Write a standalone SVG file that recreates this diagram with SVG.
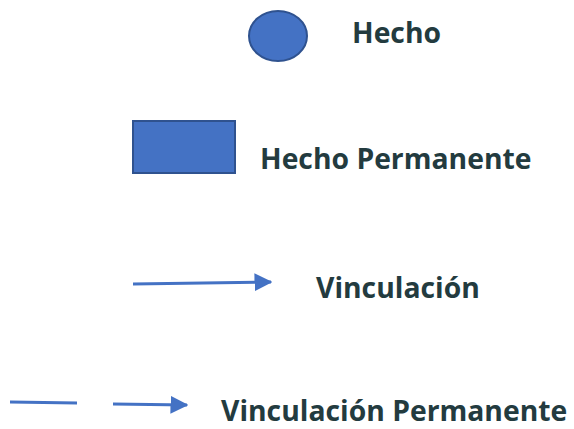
<svg xmlns="http://www.w3.org/2000/svg" width="574" height="429" viewBox="0 0 574 429">
<style>
.lbl{font-family:"Open Sans",Lato,"Liberation Sans",sans-serif;font-weight:bold;font-size:28.3px;fill:#233B3F}
.shape{fill:#4472C4;stroke:#2F528F;stroke-width:2}
.ln{stroke:#4472C4;stroke-width:3;fill:none}
</style>
<defs>
<marker id="ah" markerWidth="6" markerHeight="6" refX="5.5" refY="3" orient="auto" markerUnits="strokeWidth">
<path d="M0,0 L6,3 L0,6 Z" fill="#4472C4"/>
</marker>
</defs>
<rect width="574" height="429" fill="#FFFFFF"/>
<g id="hecho">
<ellipse class="shape" cx="278" cy="36" rx="29" ry="25"/>
<text class="lbl" x="352" y="43">Hecho</text>
</g>
<g id="hecho-permanente">
<rect class="shape" x="133" y="121" width="102" height="52"/>
<text class="lbl" x="260" y="169">Hecho Permanente</text>
</g>
<g id="vinculacion">
<text class="lbl" x="316" y="298">Vinculación</text>
</g>
<g id="vinculacion-permanente">
<text class="lbl" x="221" y="421">Vinculación Permanente</text>
</g>
<g id="connectors">
<line class="ln" x1="133" y1="284" x2="271" y2="282" marker-end="url(#ah)"/>
<line class="ln" x1="10" y1="402" x2="77" y2="403"/>
<line class="ln" x1="113" y1="404" x2="187" y2="405" marker-end="url(#ah)"/>
</g>
</svg>
